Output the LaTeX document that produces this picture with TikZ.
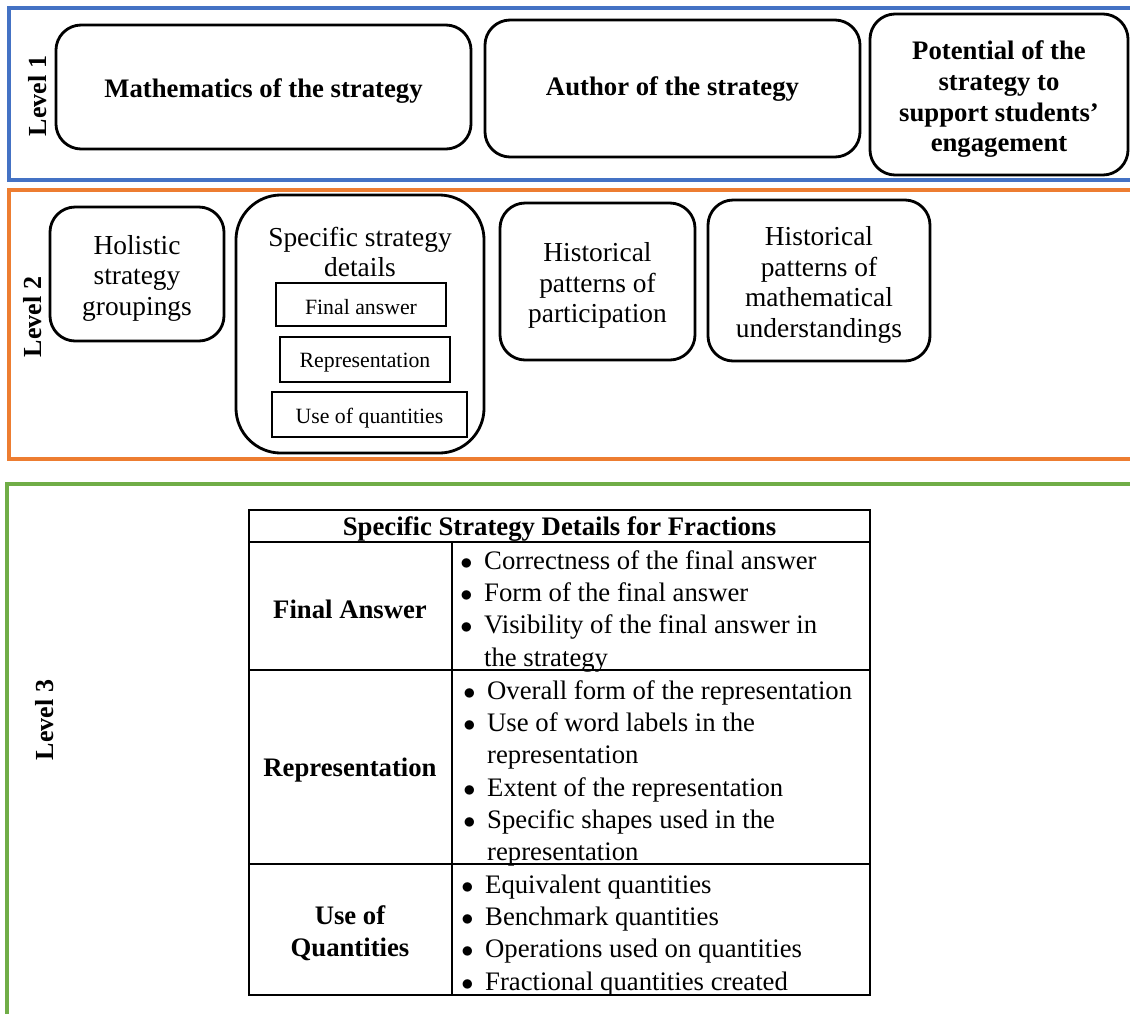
\documentclass[tikz,border=0pt]{standalone}
\usepackage{fontspec}
\setmainfont{Liberation Serif}
\definecolor{lvlblue}{HTML}{4472C4}
\definecolor{lvlorange}{HTML}{ED7D31}
\definecolor{lvlgreen}{HTML}{70AD47}
\newcommand{\itemdot}{\makebox[17pt][l]{$\bullet$}}
\begin{document}
\begin{tikzpicture}[x=0.025cm, y=0.025cm]
		\tikzstyle{every node}+=[inner sep=0pt]
		\tikzstyle{rbox}=[draw, line width=2pt, rounded corners=18pt]
		\tikzstyle{detbox}=[draw, line width=1.8pt]
		\tikzstyle{toptext}=[align=center, font=\fontsize{19}{21.8}\selectfont\bfseries]
		\tikzstyle{midtext}=[align=center, font=\fontsize{19.5}{21.7}\selectfont]
		\tikzstyle{dettext}=[font=\fontsize{15.5}{18}\selectfont]
		\tikzstyle{lvl}=[rotate=90, font=\fontsize{18.5}{20}\selectfont\bfseries]
		\tikzstyle{cell}=[align=center, font=\fontsize{19}{23}\selectfont]
		\tikzstyle{headcell}=[align=center, font=\fontsize{19}{23}\selectfont\bfseries]
		\clip (0,0) rectangle (1130,-1013);
		\fill [white] (0,0) rectangle (1130,-1013);
		\draw [lvlblue, line width=2.6pt] (9,-8) rectangle (1140,-180);
		\draw [lvlorange, line width=2.6pt] (9,-190) rectangle (1140,-459);
		\draw [lvlgreen, line width=2.6pt] (7,-484) rectangle (1140,-1030);
		\node [lvl] (lvlone) at (38,-96) {Level 1};
		\node [lvl] (lvltwo) at (33,-317) {Level 2};
		\node [lvl] (lvlthree) at (45,-720) {Level 3};
		\node [rbox, minimum width=10.375cm, minimum height=3.1cm] (maths) at (263.5,-87) {};
		\node [toptext] (mathstext) at (263.5,-91) {Mathematics of the strategy};
		\node [rbox, minimum width=9.375cm, minimum height=3.425cm] (author) at (672.5,-88.5) {};
		\node [toptext] (authortext) at (672.5,-89.5) {Author of the strategy};
		\node [rbox, minimum width=6.45cm, minimum height=4.025cm] (potential) at (999,-94.5) {};
		\node [toptext] (potentialtext) at (999,-99.5) {Potential of the\\strategy to\\support students’\\engagement};
		\node [rbox, minimum width=4.35cm, minimum height=3.35cm] (holistic) at (137,-274) {};
		\node [midtext] (holistictext) at (137,-278) {Holistic\\strategy\\groupings};
		\node [rbox, rounded corners=32pt, minimum width=6.2cm, minimum height=6.45cm] (specific) at (360,-324) {};
		\node [midtext] (specifictext) at (360,-252) {Specific strategy\\details};
		\node [detbox, minimum width=4.25cm, minimum height=1.075cm] (finalans) at (361,-304.5) {};
		\node [dettext] (finalanstext) at (361,-307.5) {Final answer};
		\node [detbox, minimum width=4.25cm, minimum height=1.125cm] (repres) at (365,-359.5) {};
		\node [dettext] (represtext) at (365,-363) {Representation};
		\node [detbox, minimum width=4.875cm, minimum height=1.125cm] (usequant) at (369.5,-414.5) {};
		\node [dettext] (usequanttext) at (369.5,-418) {Use of quantities};
		\node [rbox, minimum width=4.875cm, minimum height=3.925cm] (histpart) at (597.5,-281.5) {};
		\node [midtext] (histparttext) at (597.5,-285.5) {Historical\\patterns of\\participation};
		\node [rbox, minimum width=5.55cm, minimum height=4.025cm] (histmath) at (819,-280.5) {};
		\node [midtext] (histmathtext) at (819,-285) {Historical\\patterns of\\mathematical\\understandings};
		\draw [line width=1.7pt] (249,-510) rectangle (870,-995);
		\draw [line width=1.7pt] (249,-542) -- (870,-542);
		\draw [line width=1.7pt] (249,-670) -- (870,-670);
		\draw [line width=1.7pt] (249,-864) -- (870,-864);
		\draw [line width=1.7pt] (452,-542) -- (452,-995);
		\node [headcell] (tabhead) at (559.5,-529) {Specific Strategy Details for Fractions};
		\node [headcell] (rowfa) at (350,-609) {Final Answer};
		\node [headcell] (rowrep) at (350,-770) {Representation};
		\node [headcell] (rowuq) at (350,-933) {Use of\\Quantities};
		\node [cell, anchor=base west] (listfa) at (460,-569) {\begin{tabular}[t]{@{}l@{}l@{}}
			\itemdot & Correctness of the final answer\\
			\itemdot & Form of the final answer\\
			\itemdot & Visibility of the final answer in\\
			& the strategy
		\end{tabular}};
		\node [cell, anchor=base west] (listrep) at (463,-699) {\begin{tabular}[t]{@{}l@{}l@{}}
			\itemdot & Overall form of the representation\\
			\itemdot & Use of word labels in the\\
			& representation\\
			\itemdot & Extent of the representation\\
			\itemdot & Specific shapes used in the\\
			& representation
		\end{tabular}};
		\node [cell, anchor=base west] (listuq) at (461,-893) {\begin{tabular}[t]{@{}l@{}l@{}}
			\itemdot & Equivalent quantities\\
			\itemdot & Benchmark quantities\\
			\itemdot & Operations used on quantities\\
			\itemdot & Fractional quantities created
		\end{tabular}};
\end{tikzpicture}
\end{document}
